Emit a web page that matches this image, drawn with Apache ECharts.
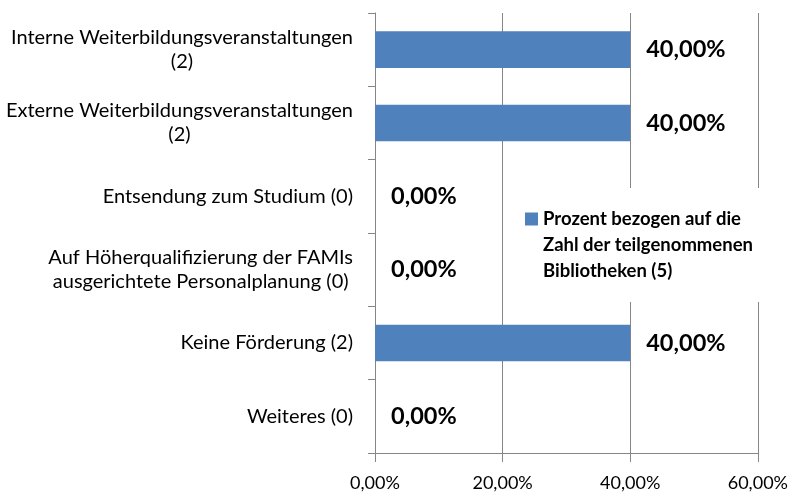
<!DOCTYPE html>
<html>
<head>
<meta charset="utf-8">
<script src="https://cdn.jsdelivr.net/npm/echarts@6/dist/echarts.min.js"></script>
<style>
  html, body { margin: 0; padding: 0; background: #fff; }
  #chart { width: 791px; height: 492px; }
</style>
</head>
<body>
<div id="chart"></div>
<script>
// Kategorien (von oben nach unten)
const categories = [
  "Interne Weiterbildungsveranstaltungen\n(2)",
  "Externe Weiterbildungsveranstaltungen\n(2)",
  "Entsendung zum Studium (0)",
  "Auf Höherqualifizierung der FAMIs\nausgerichtete Personalplanung (0)",
  "Keine Förderung (2)",
  "Weiteres (0)"
];
// Werte in Prozent
const percentValues = [40, 40, 0, 0, 40, 0];
const seriesName = "Prozent bezogen auf die\nZahl der teilgenommenen\nBibliotheken (5)";
// x-Achse: 0,00% .. 60,00%
const xMin = 0;
const xMax = 60;
const xStep = 20;

const font = "Lato";
const gray = "#868686";

function pct(v) {
  return Number(v).toFixed(2).replace(".", ",") + "%";
}

const myChart = echarts.init(document.getElementById("chart"), null, { renderer: "canvas" });

myChart.setOption({
  animation: false,
  backgroundColor: "#fff",
  grid: {
    left: 375,
    right: 32,
    top: 13,
    bottom: 35,
    containLabel: false
  },
  legend: {
    orient: "vertical",
    left: 515,
    top: 188,
    padding: [18, 20, 18, 10],
    backgroundColor: "#fff",
    itemWidth: 13,
    itemHeight: 78,
    // Quadrat oben, unsichtbare Punkte strecken die Hoehe auf 78
    icon: "path://M0,6.5L13,6.5L13,19.5L0,19.5Z M0,0L0.01,0 M0,78L0.01,78",
    textStyle: {
      fontFamily: font,
      fontWeight: "bold",
      fontSize: 18.5,
      lineHeight: 26,
      color: "#000"
    },
    data: [seriesName]
  },
  xAxis: {
    type: "value",
    min: xMin,
    max: xMax,
    interval: xStep,
    axisLine: { show: true, lineStyle: { color: gray, width: 1 } },
    axisTick: { show: true, length: 9, lineStyle: { color: gray } },
    axisLabel: {
      margin: 21,
      fontFamily: font,
      fontSize: 18,
      color: "#000",
      formatter: pct
    },
    splitLine: { show: true, lineStyle: { color: gray, width: 1 } }
  },
  yAxis: {
    type: "category",
    inverse: true,
    data: categories,
    axisLine: { show: true, lineStyle: { color: gray, width: 1 } },
    axisTick: { show: true, length: 7, lineStyle: { color: gray } },
    axisLabel: {
      margin: 22,
      formatter: function (v) {
        return v.split("\n").map(function (s) { return "{c|" + s + "}"; }).join("\n");
      },
      rich: {
        c: {
          fontFamily: font,
          fontSize: 20,
          lineHeight: 24,
          color: "#000",
          align: "center"
        }
      }
    }
  },
  series: [
    {
      name: seriesName,
      type: "bar",
      barWidth: "50%",
      itemStyle: { color: "#4F81BD" },
      label: {
        show: true,
        position: "right",
        distance: 16,
        fontFamily: font,
        fontWeight: "bold",
        fontSize: 23.5,
        color: "#000",
        formatter: function (p) { return pct(p.value); }
      },
      data: percentValues
    }
  ]
});
</script>
</body>
</html>
